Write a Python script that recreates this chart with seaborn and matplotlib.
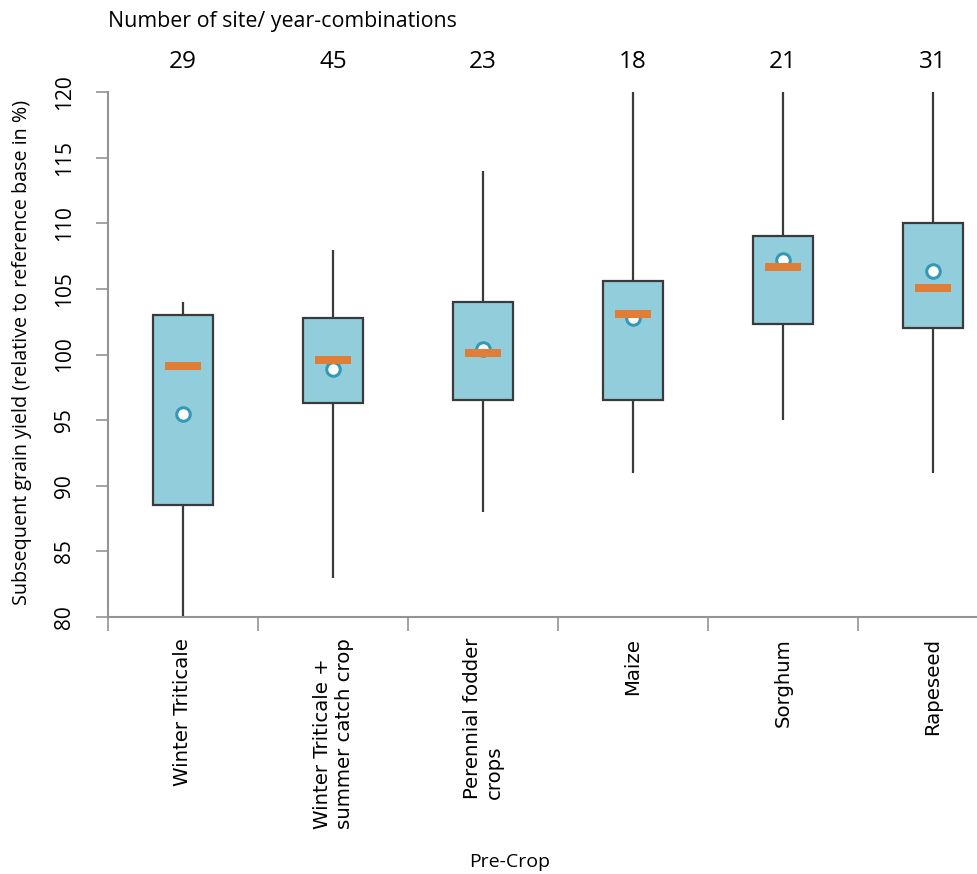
import numpy as np
import pandas as pd
import matplotlib
matplotlib.use("Agg")
import matplotlib.pyplot as plt
import matplotlib.transforms as mtransforms
import seaborn as sns

# Pre-crop categories and summary statistics of subsequent grain yield (% of reference)
categories = [
    "Winter Triticale",
    "Winter Triticale +\nsummer catch crop",
    "Perennial fodder\ncrops",
    "Maize",
    "Sorghum",
    "Rapeseed",
]
counts = [29, 45, 23, 18, 21, 31]
whisker_low = [80.0, 83.0, 88.0, 91.0, 95.0, 91.0]
q1 = [88.5, 96.3, 96.5, 96.5, 102.3, 102.0]
medians = [99.1, 99.6, 100.1, 103.1, 106.7, 105.1]
q3 = [103.0, 102.8, 104.0, 105.6, 109.0, 110.0]
whisker_high = [104.0, 108.0, 114.0, 120.0, 120.0, 120.0]
means = [95.5, 98.9, 100.4, 102.8, 107.2, 106.4]

y_ticks = [80, 85, 90, 95, 100, 105, 110, 115, 120]

# Five-number summaries in long form: with whis=(0, 100) the boxplot
# reproduces min, Q1, median, Q3 and max exactly from these five values.
rows = []
for cat, lo, a, m, b, hi in zip(categories, whisker_low, q1, medians, q3, whisker_high):
    for v in (lo, a, m, b, hi):
        rows.append({"crop": cat, "value": v})
df = pd.DataFrame(rows)

sns.set_style("white")
plt.rcParams["font.family"] = ["Open Sans", "DejaVu Sans"]
plt.rcParams["text.color"] = "black"
plt.rcParams["xtick.color"] = "black"
plt.rcParams["ytick.color"] = "black"

BOX_FILL = "#92CDDC"
LINE = "#3a3a3a"
ORANGE = "#E07D37"
TEAL = "#3499B5"
SPINE = "#949494"

W, H = 977, 874
fig = plt.figure(figsize=(W / 100, H / 100), dpi=100)
ax = fig.add_axes([108 / W, 257 / H, 900 / W, 525 / H])

sns.boxplot(
    data=df, x="crop", y="value", order=categories, ax=ax,
    whis=(0, 100), width=0.4, color=BOX_FILL, saturation=1,
    linecolor=LINE, linewidth=1.6, showcaps=False, showfliers=False,
    medianprops={"visible": False},
)

pos = np.arange(len(categories))

# Means: white circles with teal rim
sns.scatterplot(x=pos, y=means, ax=ax, marker="o", s=95, color="white",
                edgecolor=TEAL, linewidth=2.2, zorder=4, legend=False)

# Medians: short orange bars
bar = [(-1, -0.23), (1, -0.23), (1, 0.23), (-1, 0.23)]
sns.scatterplot(x=pos, y=medians, ax=ax, marker=bar, s=680, color=ORANGE,
                linewidth=0, zorder=5, legend=False)

ax.set_xlim(-0.5, len(categories) - 0.5)
ax.set_ylim(80, 120)
ax.set_yticks(y_ticks)
ax.set_yticklabels([str(t) for t in y_ticks], rotation=90, va="center", fontsize=15)
ax.set_xticks(pos)
ax.set_xticklabels(categories, rotation=90, va="top", ha="center",
                   fontsize=14.2, family="DejaVu Sans", multialignment="left")
ax.set_xticks(np.arange(len(categories) + 1) - 0.5, minor=True)
ax.tick_params(axis="x", which="both", bottom=True)
ax.tick_params(axis="x", which="major", length=0, pad=15)
ax.tick_params(axis="x", which="minor", length=10, width=1.2, color=SPINE)
ax.tick_params(axis="y", left=True, length=9, width=1.2, color=SPINE, pad=15)
ax.set_xlabel("")
ax.set_ylabel("")

for side in ("top", "right"):
    ax.spines[side].set_visible(False)
for side in ("left", "bottom"):
    ax.spines[side].set_color(SPINE)
    ax.spines[side].set_linewidth(1.5)

# Sample sizes above each pre-crop
count_tf = mtransforms.blended_transform_factory(ax.transData, fig.transFigure)
for x, n in zip(pos, counts):
    ax.text(x, 1 - 62 / H, str(n), transform=count_tf,
            ha="center", va="center", fontsize=17.5)

fig.text(108 / W, 1 - 22 / H, "Number of site/ year-combinations",
         ha="left", va="center", fontsize=15.4)
fig.text(22 / W, 1 - 352 / H, "Subsequent grain yield (relative to reference base in %)",
         rotation=90, ha="center", va="center", fontsize=14.2)
fig.text(510 / W, 1 - 862 / H, "Pre-Crop", ha="center", va="center", fontsize=14)

fig.savefig("out.png", dpi=100)
